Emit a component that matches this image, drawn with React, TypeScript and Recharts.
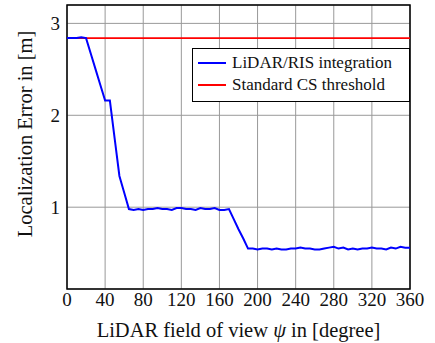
import {
  CartesianGrid,
  Line,
  LineChart,
  ReferenceArea,
  ReferenceLine,
  XAxis,
  YAxis,
} from "recharts";

const angles = [
  0, 5, 10, 15, 20, 25, 30, 35, 40, 45, 50, 55, 60, 65, 70, 75, 80, 85, 90, 95,
  100, 105, 110, 115, 120, 125, 130, 135, 140, 145, 150, 155, 160, 165, 170,
  175, 180, 185, 190, 195, 200, 205, 210, 215, 220, 225, 230, 235, 240, 245,
  250, 255, 260, 265, 270, 275, 280, 285, 290, 295, 300, 305, 310, 315, 320,
  325, 330, 335, 340, 345, 350, 355, 360,
];

const lidarRisError = [
  2.84, 2.84, 2.84, 2.85, 2.84, 2.67, 2.5, 2.33, 2.16, 2.16, 1.75, 1.34, 1.16,
  0.98, 0.97, 0.98, 0.97, 0.98, 0.98, 0.99, 0.98, 0.98, 0.97, 0.99, 0.99, 0.98,
  0.98, 0.97, 0.99, 0.98, 0.98, 0.99, 0.97, 0.97, 0.98, 0.87, 0.76, 0.66, 0.55,
  0.55, 0.54, 0.55, 0.55, 0.54, 0.55, 0.54, 0.54, 0.55, 0.55, 0.56, 0.55, 0.55,
  0.54, 0.54, 0.55, 0.56, 0.57, 0.55, 0.56, 0.54, 0.55, 0.54, 0.55, 0.55, 0.56,
  0.55, 0.55, 0.54, 0.56, 0.55, 0.57, 0.56, 0.56,
];

const csThreshold = 2.84;

const xTicks = [0, 40, 80, 120, 160, 200, 240, 280, 320, 360];
const yTicks = [1, 2, 3];

const seriesNames = ["LiDAR/RIS integration", "Standard CS threshold"];
const seriesColors = ["#0000ff", "#ff0000"];

const data = angles.map((a, i) => ({ angle: a, error: lidarRisError[i] }));

const FONT = "Liberation Serif, DejaVu Serif, serif";
const tickStyle = { fontFamily: FONT, fontSize: 19, fill: "#111" };

function LegendBox() {
  return (
    <div
      style={{
        position: "absolute",
        left: 192,
        top: 48,
        width: 218,
        height: 54,
        border: "1.5px solid #000",
        background: "#fff",
        fontFamily: FONT,
        fontSize: 17,
        color: "#111",
        boxSizing: "border-box",
        padding: "3px 0 0 5px",
      }}
    >
      {seriesNames.map((n, i) => (
        <div key={n} style={{ display: "flex", alignItems: "center", height: 22 }}>
          <span
            style={{
              display: "inline-block",
              width: 28,
              height: 0,
              borderTop: `2px solid ${seriesColors[i]}`,
              marginRight: 6,
            }}
          />
          <span>{n}</span>
        </div>
      ))}
    </div>
  );
}

function XLabel(props: any) {
  const vb = props.viewBox || {};
  const cx = vb.x + vb.width / 2;
  return (
    <text x={cx} y={337} textAnchor="middle" style={{ fontFamily: FONT, fontSize: 20.5 }} fill="#111">
      LiDAR field of view <tspan fontStyle="italic">ψ</tspan> in [degree]
    </text>
  );
}

function YLabel() {
  const cx = 32;
  const cy = 134;
  return (
    <text
      x={cx}
      y={cy}
      textAnchor="middle"
      transform={`rotate(-90, ${cx}, ${cy})`}
      style={{ fontFamily: FONT, fontSize: 20.5 }}
      fill="#111"
    >
      Localization Error in [m]
    </text>
  );
}

export default function App() {
  return (
    <div style={{ position: "absolute", left: 0, top: 0, width: 435, height: 343, background: "#fff" }}>
      <LineChart
        width={435}
        height={343}
        data={data}
        margin={{ top: 5, right: 25, left: 0, bottom: 0 }}
      >
        <CartesianGrid stroke="#999" strokeWidth={1} />
        <XAxis
          dataKey="angle"
          type="number"
          domain={[0, 360]}
          ticks={xTicks}
          height={54}
          tickLine={false}
          axisLine={false}
          tickSize={0}
          tickMargin={4}
          tick={tickStyle}
          label={<XLabel />}
          interval={0}
        />
        <YAxis
          type="number"
          domain={[0.11, 3.2]}
          ticks={yTicks}
          width={67}
          allowDataOverflow
          tickLine={false}
          axisLine={false}
          tickSize={0}
          tickMargin={7}
          tick={tickStyle}
          label={<YLabel />}
        />
        <ReferenceLine y={csThreshold} stroke={seriesColors[1]} strokeWidth={1.6} />
        <Line
          dataKey="error"
          stroke={seriesColors[0]}
          strokeWidth={2}
          dot={false}
          isAnimationActive={false}
        />
        <ReferenceArea
          x1={0}
          x2={360}
          y1={0.11}
          y2={3.2}
          fill="none"
          fillOpacity={0}
          stroke="#000"
          strokeWidth={1.5}
          strokeOpacity={1}
        />
      </LineChart>
      <LegendBox />
    </div>
  );
}
